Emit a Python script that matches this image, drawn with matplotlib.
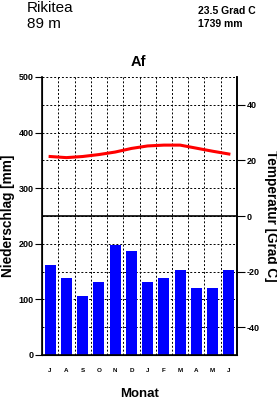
import matplotlib
matplotlib.use("Agg")
import matplotlib.pyplot as plt
import numpy as np

plt.rcParams['font.family'] = ['Liberation Sans', 'DejaVu Sans']

months = ['J', 'A', 'S', 'O', 'N', 'D', 'J', 'F', 'M', 'A', 'M', 'J']
precip = [161, 138, 107, 131, 198, 187, 131, 138, 152, 120, 121, 152]
temp = [21.4, 21.0, 21.4, 22.1, 23.0, 24.3, 25.2, 25.5, 25.5, 24.4, 23.3, 22.3]
station = 'Rikitea'
elevation = '89 m'
mean_temp = '23.5 Grad C'
total_precip = '1739 mm'
climate = 'Af'
precip_ticks = [0, 100, 200, 300, 400, 500]
temp_ticks = [-40, -20, 0, 20, 40]

W, H = 277, 399
fig = plt.figure(figsize=(W / 100, H / 100), dpi=100)
L, R, T, B = 42, 237, 77, 355
ax = fig.add_axes([L / W, 1 - B / H, (R - L) / W, (B - T) / H])
x = np.arange(len(months))

dash = (0, (2, 2))
ax.set_xlim(-0.5, 11.5)
ax.set_ylim(0, 500)
ax.set_xticks(x)
ax.set_xticklabels(months, fontsize=4.5, fontweight='bold')
ax.set_xticks(x[:-1] + 0.5, minor=True)
ax.tick_params(axis='x', which='both', length=0, pad=9)
ax.set_yticks(precip_ticks)
ax.set_yticklabels([str(v) for v in precip_ticks], fontsize=6.5, fontweight='bold')
ax.set_yticks(np.arange(50, 500, 100), minor=True)
ax.tick_params(axis='y', which='major', length=5, width=0.8, pad=1, direction='out')
ax.tick_params(axis='y', which='minor', length=0)
ax.grid(True, which='minor', axis='x', linestyle=dash, color='black', linewidth=0.7)
ax.grid(True, which='both', axis='y', linestyle=dash, color='black', linewidth=0.7)
ax.set_axisbelow(True)
ax.bar(x, precip, width=0.68, color='#0000ff', zorder=2)
ax.axhline(250, color='black', linewidth=1.2, zorder=3)
ax.spines['top'].set_visible(False)
for s in ['left', 'right', 'bottom']:
    ax.spines[s].set_linewidth(1.2)

ax2 = ax.twinx()
ax2.set_ylim(-50, 50)
ax2.set_yticks(temp_ticks)
ax2.set_yticklabels([str(v) for v in temp_ticks], fontsize=6.5, fontweight='bold')
ax2.tick_params(axis='y', length=6, width=0.8, pad=1)
ax2.plot(x, temp, color='#ff0000', linewidth=2.2, zorder=5)
ax2.spines['top'].set_visible(False)
ax2.spines['right'].set_linewidth(1.2)

fig.text(8 / W, 1 - 216 / H, 'Niederschlag [mm]', rotation=90, ha='center', va='center',
         fontsize=9.8, fontweight='bold')
fig.text(271 / W, 1 - 216 / H, 'Temperatur [Grad C]', rotation=-90, ha='center', va='center',
         fontsize=9.8, fontweight='bold')
fig.text(140 / W, 1 - 394 / H, 'Monat', ha='center', va='center', fontsize=9.5, fontweight='bold')
fig.text(138 / W, 1 - 66 / H, climate, ha='center', va='baseline', fontsize=10.5, fontweight='bold')
fig.text(27 / W, 1 - 12 / H, station, ha='left', va='baseline', fontsize=11)
fig.text(27 / W, 1 - 28 / H, elevation, ha='left', va='baseline', fontsize=11)
fig.text(198 / W, 1 - 14 / H, mean_temp, ha='left', va='baseline', fontsize=7.5, fontweight='bold')
fig.text(198 / W, 1 - 27 / H, total_precip, ha='left', va='baseline', fontsize=7.5, fontweight='bold')

fig.savefig('out.png', dpi=100)
